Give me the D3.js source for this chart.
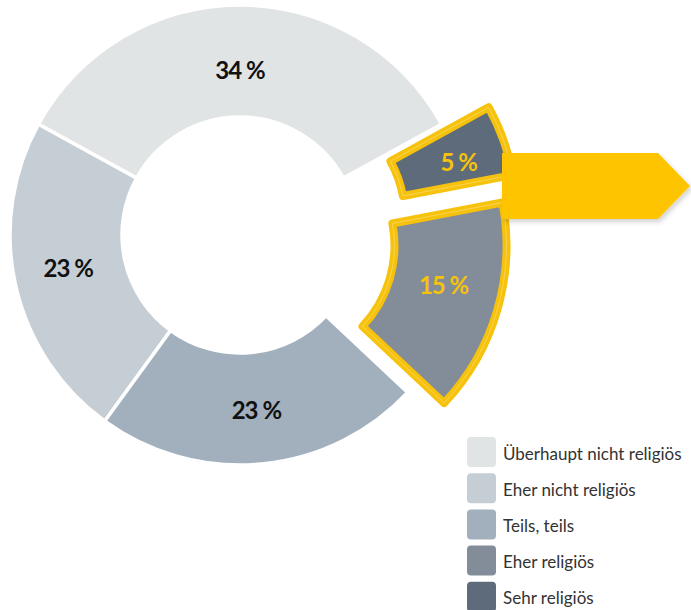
<!DOCTYPE html>
<html lang="de">
<head>
<meta charset="utf-8">
<title>Religiosität</title>
<style>
body{
  margin: 0;
  background: #fff;
}
.label{
  font: bold 24px Lato, "Open Sans", sans-serif;
  text-anchor: middle;
  dominant-baseline: central;
  letter-spacing: -1px;
}
.legend text{
  font: 17px Lato, "Open Sans", sans-serif;
  fill: #333;
  dominant-baseline: central;
}
</style>
</head>
<body>
<div id="chart"></div>
<script src="https://d3js.org/d3.v7.min.js"></script>
<script>
  // data, in legend order
  const categories = ["Überhaupt nicht religiös", "Eher nicht religiös", "Teils, teils", "Eher religiös", "Sehr religiös"];
  const values = [34, 23, 23, 15, 5];
  const valueLabels = ["34 %", "23 %", "23 %", "15 %", "5 %"];
  const highlighted = ["Eher religiös", "Sehr religiös"];

  const width = 691, height = 610;
  const cx = 240, cy = 235;
  const outerR = 230, innerR = 118;
  const colors = ["#e1e4e5", "#c6ced5", "#a2b0be", "#838d9a", "#5d6b7b"];
  const yellow = "#f6c20c";
  // how far the highlighted slices are pulled out
  const pullOut = {"Eher religiös": 38, "Sehr religiös": 50};
  // small nudges so labels sit where the original put them
  const labelNudge = [[0, 8], [-2, -5], [0, 1], [0, -10], [8, 2]];

  const svg = d3.select("#chart")
    .append("svg")
    .attr("width", width)
    .attr("height", height);

  const defs = svg.append("defs");
  const shadow = defs.append("filter").attr("id", "shadow")
    .attr("x", "-10%").attr("y", "-20%").attr("width", "130%").attr("height", "160%");
  shadow.append("feDropShadow")
    .attr("dx", 2).attr("dy", 3).attr("stdDeviation", 2.5)
    .attr("flood-color", "#000").attr("flood-opacity", 0.18);

  const color = d3.scaleOrdinal().domain(categories).range(colors);

  // slices run counter-clockwise, first slice centred at the top
  const start = (values[0] / 100) * Math.PI;
  const pie = d3.pie()
    .sort(null)
    .value(d => d.value)
    .startAngle(start)
    .endAngle(start - 2 * Math.PI);

  const data = categories.map((c, i) => ({name: c, value: values[i], label: valueLabels[i]}));
  const arcs = pie(data);

  const arc = d3.arc().innerRadius(innerR).outerRadius(outerR);

  const offset = d => {
    const k = pullOut[d.data.name] || 0;
    const a = (d.startAngle + d.endAngle) / 2;
    return [k * Math.sin(a), -k * Math.cos(a)];
  };

  const g = svg.append("g").attr("transform", `translate(${cx},${cy})`);

  // normal slices
  g.selectAll("path.slice")
    .data(arcs.filter(d => !highlighted.includes(d.data.name)))
    .enter()
    .append("path")
    .attr("class", "slice")
    .attr("d", arc)
    .attr("fill", d => color(d.data.name))
    .attr("stroke", "#fff")
    .attr("stroke-width", 3.5);

  // highlighted slices, pulled out with a yellow frame
  const hl = g.selectAll("g.hl")
    .data(arcs.filter(d => highlighted.includes(d.data.name)))
    .enter()
    .append("g")
    .attr("class", "hl")
    .attr("transform", d => `translate(${offset(d)})`);

  hl.append("path")
    .attr("d", arc)
    .attr("fill", d => color(d.data.name))
    .attr("stroke", yellow)
    .attr("stroke-width", 8)
    .attr("stroke-linejoin", "round");

  hl.append("path")
    .attr("d", arc)
    .attr("fill", "none")
    .attr("stroke", "#f9dc73")
    .attr("stroke-width", 1)
    .attr("opacity", 0.7);

  // arrow
  const arrowX = 502, arrowTop = 153, arrowH = 66, arrowW = 188, tipW = 32;
  svg.append("path")
    .attr("d", `M${arrowX},${arrowTop} H${arrowX + arrowW - tipW} L${arrowX + arrowW},${arrowTop + arrowH / 2} L${arrowX + arrowW - tipW},${arrowTop + arrowH} H${arrowX} Z`)
    .attr("fill", "#ffc400")
    .attr("filter", "url(#shadow)");

  // value labels
  g.selectAll("text.label")
    .data(arcs)
    .enter()
    .append("text")
    .attr("class", "label")
    .attr("transform", (d, i) => {
      const c = arc.centroid(d);
      const o = offset(d);
      const n = labelNudge[i];
      return `translate(${c[0] + o[0] + n[0]},${c[1] + o[1] + n[1]})`;
    })
    .attr("fill", d => highlighted.includes(d.data.name) ? yellow : "#111")
    .text(d => d.data.label);

  // legend
  const legend = svg.append("g")
    .attr("class", "legend")
    .attr("transform", "translate(467,437)");

  const row = legend.selectAll("g")
    .data(categories)
    .enter()
    .append("g")
    .attr("transform", (d, i) => `translate(0,${i * 36.2})`);

  row.append("rect")
    .attr("width", 29)
    .attr("height", 30)
    .attr("rx", 4)
    .attr("fill", d => color(d));

  row.append("text")
    .attr("x", 36)
    .attr("y", 16)
    .text(d => d);
</script>
</body>
</html>
